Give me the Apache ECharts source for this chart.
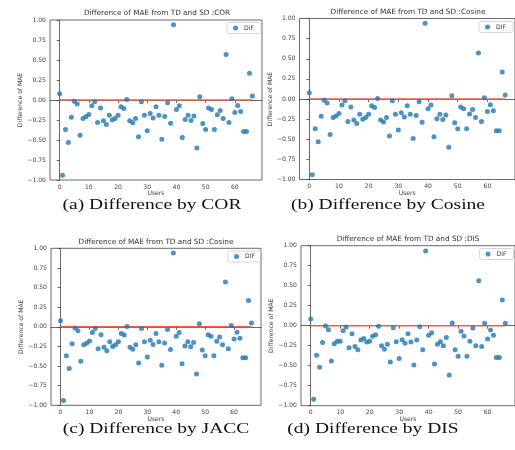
<!DOCTYPE html>
<html>
<head>
<meta charset="utf-8">
<script src="https://cdn.jsdelivr.net/npm/echarts@6/dist/echarts.min.js"></script>
<style>
  html, body { margin: 0; padding: 0; background: #fff; }
  #chart { width: 515px; height: 450px; }
</style>
</head>
<body>
<div id="chart"></div>
<script>
// users 0..66
const users = [0, 1, 2, 3, 4, 5, 6, 7, 8, 9, 10, 11, 12, 13, 14, 15, 16, 17, 18, 19, 20, 21, 22,
  23, 24, 25, 26, 27, 28, 29, 30, 31, 32, 33, 34, 35, 36, 37, 38, 39, 40, 41, 42, 43, 44, 45,
  46, 47, 48, 49, 50, 51, 52, 53, 54, 55, 56, 57, 58, 59, 60, 61, 62, 63, 64, 65, 66]
// COR / Cosine / JACC share the same values
const difCos = [0.077, -0.94, -0.37, -0.53, -0.215, -0.015, -0.05, -0.44, -0.23, -0.21,
  -0.18, -0.073, -0.023, -0.28, -0.10, -0.26, -0.305, -0.19, -0.25, -0.23,
  -0.19, -0.085, -0.105, 0.005, -0.26, -0.285, -0.23, -0.46, -0.023, -0.19,
  -0.385, -0.17, -0.225, -0.085, -0.19, -0.49, -0.205, -0.035, -0.29, 0.94,
  -0.12, -0.073, -0.47, -0.245, -0.19, -0.255, -0.20, -0.60, 0.04, -0.295,
  -0.37, -0.10, -0.12, -0.37, -0.185, -0.13, -0.23, 0.57, -0.28, 0.015,
  -0.155, -0.07, -0.145, -0.395, -0.395, 0.335, 0.05]
const difDis = [0.085, -0.92, -0.37, -0.52, -0.21, -0.005, -0.05, -0.44, -0.225, -0.195,
  -0.195, -0.063, -0.017, -0.275, -0.10, -0.26, -0.30, -0.18, -0.16, -0.205,
  -0.195, -0.133, -0.113, -0.008, -0.25, -0.295, -0.233, -0.455, -0.025, -0.20,
  -0.41, -0.175, -0.22, -0.10, -0.205, -0.49, -0.18, -0.013, -0.30, 0.933,
  -0.12, -0.088, -0.48, -0.233, -0.20, -0.25, -0.146, -0.617, 0.033, -0.30,
  -0.383, -0.07, -0.13, -0.383, -0.195, -0.03, -0.25, 0.563, -0.26, 0.03,
  -0.167, -0.054, -0.12, -0.396, -0.396, 0.32, 0.03]
const xTicks = [0, 10, 20, 30, 40, 50, 60]
const zeroLine = [[0, 0], [66, 0]]

const panels = [
  { grid: { left: 50, top: 20, width: 212, height: 160 }, title: 'Difference of MAE from TD and SD :COR', tx: 157, ty: 13,
    data: difCos, lgRight: 254, lgTop: 22.5, caption: '(a) Difference by COR', cx: 152, cy: 205 },
  { grid: { left: 299.5, top: 18.5, width: 217, height: 161 }, title: 'Difference of MAE from TD and SD :Cosine', tx: 408, ty: 11.7,
    data: difCos, lgRight: 2, lgTop: 21.5, caption: '(b) Difference by Cosine', cx: 388, cy: 205 },
  { grid: { left: 51, top: 248.3, width: 210, height: 157 }, title: 'Difference of MAE from TD and SD :Cosine', tx: 156, ty: 241.7,
    data: difCos, lgRight: 253, lgTop: 251, caption: '(c) Difference by JACC', cx: 156, cy: 429 },
  { grid: { left: 301, top: 245.7, width: 215, height: 160 }, title: 'Difference of MAE from TD and SD :DIS', tx: 408, ty: 239,
    data: difDis, lgRight: 1.5, lgTop: 248.5, caption: '(d) Difference by DIS', cx: 373, cy: 429 }
]

const tickFont = { fontFamily: 'DejaVu Sans', fontSize: 6.1, color: '#444' }
const grids = [], xAxes = [], yAxes = [], series = [], legends = [], graphics = []

panels.forEach((p, i) => {
  grids.push(Object.assign({ show: true, borderColor: '#444', borderWidth: 0.8, containLabel: false }, p.grid))
  xAxes.push({
    type: 'value', gridIndex: i, min: -3.3, max: 69.3,
    name: 'Users', nameLocation: 'middle', nameGap: 10,
    nameTextStyle: tickFont,
    axisLine: { show: true, lineStyle: { color: '#444', width: 0.8 } },
    axisTick: { show: true, length: 3, customValues: xTicks, lineStyle: { color: '#444', width: 0.8 } },
    axisLabel: Object.assign({ margin: 4, customValues: xTicks }, tickFont),
    splitLine: { show: false }
  })
  yAxes.push({
    type: 'value', gridIndex: i, min: -1, max: 1, interval: 0.25,
    name: 'Difference of MAE', nameLocation: 'middle', nameRotate: 90, nameGap: 26,
    nameTextStyle: tickFont,
    axisLine: { show: true, lineStyle: { color: '#444', width: 0.8 } },
    axisTick: { show: true, length: 3, lineStyle: { color: '#444', width: 0.8 } },
    axisLabel: Object.assign({
      margin: 4,
      formatter: v => v.toFixed(2).replace('-', '\u2212')
    }, tickFont),
    splitLine: { show: false }
  })
  series.push({
    name: 'zero', type: 'line', xAxisIndex: i, yAxisIndex: i,
    data: zeroLine, symbol: 'none', z: 1,
    lineStyle: { color: '#e8604c', width: 1.4 }
  })
  series.push({
    name: 'DIF', type: 'scatter', xAxisIndex: i, yAxisIndex: i, z: 2,
    data: users.map((u, k) => [u, p.data[k]]),
    symbolSize: 5,
    itemStyle: { color: '#1f77b4' }
  })
  legends.push({
    data: [{ name: 'DIF', icon: 'circle' }],
    right: p.lgRight, top: p.lgTop,
    orient: 'vertical', selectedMode: false,
    itemWidth: 5, itemHeight: 5, itemGap: 0,
    padding: [2.5, 7, 2.5, 6],
    borderColor: '#ccc', borderWidth: 0.8, borderRadius: 2,
    textStyle: { fontFamily: 'DejaVu Sans', fontSize: 6.1, color: '#444', padding: [0, 0, 0, 1] }
  })
  graphics.push({
    type: 'text', x: p.tx, y: p.ty, silent: true,
    style: { text: p.title, align: 'center', verticalAlign: 'middle',
      font: '7.3px "DejaVu Sans"', fill: '#333' }
  })
  graphics.push({
    type: 'text', x: p.cx, y: p.cy, scaleX: 1.3, silent: true,
    style: { text: p.caption, align: 'center', verticalAlign: 'middle',
      font: '15px "Liberation Serif"', fill: '#111' }
  })
})

const myChart = echarts.init(document.getElementById('chart'))
myChart.setOption({
  animation: false,
  backgroundColor: '#fff',
  grid: grids,
  xAxis: xAxes,
  yAxis: yAxes,
  legend: legends,
  series: series,
  graphic: graphics
})
</script>
</body>
</html>
